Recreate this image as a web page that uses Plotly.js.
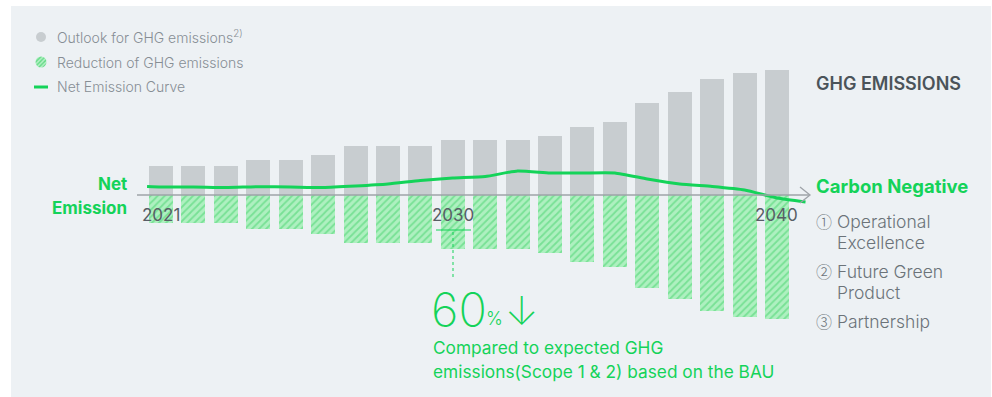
<!DOCTYPE html>
<html>
<head>
<meta charset="utf-8">
<script src="https://cdn.plot.ly/plotly-3.0.1.min.js"></script>
<style>
html,body{margin:0;padding:0;background:#ffffff;}
#chart{width:992px;height:397px;}
</style>
</head>
<body>
<div id="chart"></div>
<script>
// ---- data (arbitrary emission units) ----
var years = [2021,2022,2023,2024,2025,2026,2027,2028,2029,2030,2031,2032,2033,2034,2035,2036,2037,2038,2039,2040];
var outlook = [29,29,29,35,35,40,49,49,49,55,55,55,59,68,73,92,103,116,122,125];
var reduction = [-28,-28,-28,-34,-34,-39,-48,-48,-48,-54,-54,-54,-58,-67,-72,-93,-104,-116,-122,-124];
var netYears = [2020.57,2021,2022,2023,2024,2025,2026,2027,2028,2029,2030,2031,2032,2033,2034,2035,2036,2037,2038,2039,2040,2040.88];
var netValues = [8.5,8,8,7.5,8.3,8,7.5,9,11,14.5,17,18.5,24,22,22,22,16,11,8.5,5,-3,-7];
var tickYears = [2021,2030,2040];
var tickLabels = ['2021','2030','2040'];

var W = 992, H = 397;
function px(x){return x/W;}
function py(y){return 1 - y/H;}

var GREEN = '#14d359';
var FONT = 'Inter, Roboto, sans-serif';
function circ(c){return '<span style="font-family:\'Noto Sans CJK JP\';font-size:16px">'+c+'</span>';}

var traces = [
  {type:'bar', x:years, y:outlook, width:0.74,
   marker:{color:'#c8cdd0', line:{width:0}}, hoverinfo:'skip', showlegend:false},
  {type:'bar', x:years, y:reduction, width:0.74,
   marker:{color:'#a9efbd', line:{width:0},
     pattern:{shape:'/', fgcolor:'#78e195', bgcolor:'#aef0c0', size:5, solidity:0.35}},
   hoverinfo:'skip', showlegend:false},
  {type:'scatter', mode:'lines', x:netYears, y:netValues,
   line:{color:GREEN, width:3, shape:'spline', smoothing:0.5},
   hoverinfo:'skip', showlegend:false},
  // legend swatch for hatched reduction
  {type:'pie', values:[1], labels:['r'], textinfo:'none', hoverinfo:'skip', sort:false,
   domain:{x:[px(35.5), px(46.5)], y:[py(67.5), py(56.5)]},
   marker:{colors:['#a9efbd'], line:{width:0},
     pattern:{shape:'/', fgcolor:'#62d985', bgcolor:'#b4f1c5', size:3, solidity:0.45}},
   showlegend:false}
];

var annotations = [];
function txt(x, y, text, opts){
  opts = opts || {};
  annotations.push({
    xref:'paper', yref:'paper', x:px(x), y:py(y), text:text, showarrow:false,
    xanchor:opts.xanchor || 'left', yanchor:'middle', align:opts.xanchor==='right'?'right':'left',
    font:{family:opts.family || FONT, size:opts.size || 16, color:opts.color || '#6b7379', weight:opts.weight || 400}
  });
}
// tick labels (year) placed on the data axis
for (var i=0;i<tickYears.length;i++){
  annotations.push({xref:'x', yref:'y', x:tickYears[i], y:0, yshift:-20, text:tickLabels[i], showarrow:false,
    xanchor:'center', yanchor:'middle', font:{family:FONT, size:17, color:'#575e65'}});
}
// legend
txt(55, 37, 'Outlook for GHG emissions<sup>2)</sup>', {size:14, color:'#878e94', weight:300});
txt(55, 62, 'Reduction of GHG emissions', {size:14, color:'#878e94', weight:300});
txt(55, 87, 'Net Emission Curve', {size:14, color:'#878e94', weight:300});
// left labels
txt(129, 184, 'Net', {xanchor:'right', size:17, color:GREEN, weight:700});
txt(129, 208, 'Emission', {xanchor:'right', size:17, color:GREEN, weight:700});
// right side
txt(814, 83, 'GHG EMISSIONS', {size:18, color:'#4b545a', weight:600});
txt(814, 186, 'Carbon Negative', {size:18.5, color:GREEN, weight:700});
txt(814, 221, circ('\u2460')+' Operational', {size:17.5, color:'#6b7379', weight:300});
txt(835, 242, 'Excellence', {size:17.5, color:'#6b7379', weight:300});
txt(814, 271, circ('\u2461')+' Future Green', {size:17.5, color:'#6b7379', weight:300});
txt(835, 292, 'Product', {size:17.5, color:'#6b7379', weight:300});
txt(814, 321, circ('\u2462')+' Partnership', {size:17.5, color:'#6b7379', weight:300});
// 60% annotation
txt(429, 309, '60', {size:47, color:GREEN, weight:200});
txt(484, 318, '%', {size:18, color:GREEN, weight:300});
txt(503, 310, '\u2193', {size:40, color:GREEN, weight:200});
txt(431, 347, 'Compared to expected GHG', {size:17.3, color:GREEN, weight:400});
txt(431, 371, 'emissions(Scope 1 &amp; 2) based on the BAU', {size:17.3, color:GREEN, weight:400});

var shapes = [
  // panel background
  {type:'rect', xref:'paper', yref:'paper', x0:px(11), x1:px(991), y0:py(6), y1:0,
   fillcolor:'#edf1f4', line:{width:0}, layer:'below'},
  // baseline axis with arrow
  {type:'line', xref:'paper', yref:'y', x0:px(137), x1:px(809), y0:0, y1:0,
   line:{color:'#9ea3a8', width:1.5}},
  {type:'path', xref:'paper', yref:'paper',
   path:'M '+px(800)+','+py(187)+' L '+px(810)+','+py(195)+' L '+px(800)+','+py(203),
   line:{color:'#9ea3a8', width:1.3}},
  // legend swatches
  {type:'circle', xref:'paper', yref:'paper', x0:px(36), x1:px(46), y0:py(32), y1:py(42),
   fillcolor:'#c8cdd0', line:{width:0}},
  {type:'line', xref:'paper', yref:'paper', x0:px(34), x1:px(48), y0:py(87), y1:py(87),
   line:{color:GREEN, width:3}},
  // 2030 marker
  {type:'line', xref:'paper', yref:'paper', x0:px(436), x1:px(471), y0:py(230), y1:py(230),
   line:{color:GREEN, width:1}},
  {type:'line', xref:'paper', yref:'paper', x0:px(453), x1:px(453), y0:py(232), y1:py(279),
   line:{color:GREEN, width:1, dash:'3px,3px'}}
];

var layout = {
  width:W, height:H,
  margin:{l:0, r:0, t:0, b:0, pad:0},
  paper_bgcolor:'#ffffff', plot_bgcolor:'rgba(0,0,0,0)',
  barmode:'overlay', bargap:0,
  showlegend:false,
  xaxis:{range:[2016.034, 2046.632], visible:false, fixedrange:true},
  yaxis:{range:[-202, 195], visible:false, fixedrange:true},
  shapes:shapes,
  annotations:annotations
};

Plotly.newPlot('chart', traces, layout, {displayModeBar:false, staticPlot:true});
</script>
</body>
</html>
